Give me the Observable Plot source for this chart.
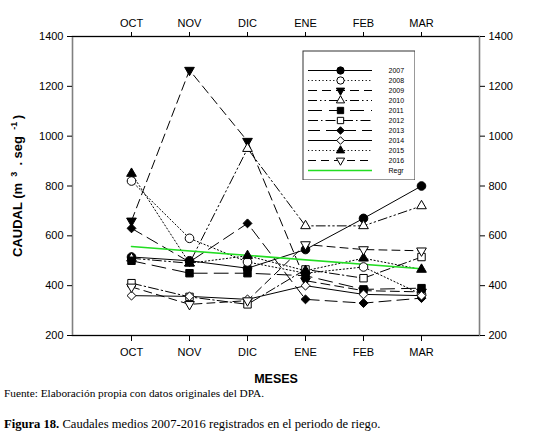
<!DOCTYPE html>
<html><head><meta charset="utf-8">
<script src="https://cdn.jsdelivr.net/npm/d3@7"></script>
<script src="https://cdn.jsdelivr.net/npm/@observablehq/plot@0.6"></script>
<style>
body{margin:0;background:#fff;width:534px;height:436px;overflow:hidden;position:relative;font-family:"Liberation Sans",Arial,sans-serif}
#chart{position:absolute;left:0;top:0}
#legend{position:absolute;left:302px;top:50px}
.cap{position:absolute;left:4px;font-family:"Liberation Serif","Times New Roman",serif;color:#000;white-space:nowrap;line-height:1}
</style></head><body>
<div id="chart"></div><div id="legend"></div>
<div class="cap" style="top:388px;font-size:11.3px">Fuente: Elaboración propia con datos originales del DPA.</div>
<div class="cap" style="top:418px;font-size:12.6px"><b>Figura 18.</b> Caudales medios 2007-2016 registrados en el periodo de riego.</div>
<script>
const months = ["OCT","NOV","DIC","ENE","FEB","MAR"];
const seriesNames = ["2007","2008","2009","2010","2011","2012","2013","2014","2015","2016"];
const v2007 = [515, 500, 470, 545, 670, 800];
const v2008 = [820, 590, 495, 450, 475, 365];
const v2009 = [660, 1265, 980, 420, 380, 375];
const v2010 = [510, 490, 950, 640, 640, 720];
const v2011 = [500, 450, 450, 440, 385, 390];
const v2012 = [410, 355, 325, 465, 430, 515];
const v2013 = [630, 495, 650, 345, 330, 350];
const v2014 = [360, 357, 345, 400, 365, 360];
const v2015 = [850, 490, 520, 460, 510, 465];
const v2016 = [395, 325, 340, 565, 545, 540];
const regrMonths = ["OCT","MAR"];
const regrValues = [557, 468];
const yTicks = [200, 400, 600, 800, 1000, 1200, 1400];
const yLabelParts = ["CAUDAL (m", "3", ". seg", "-1", ")"];

const values = {"2007":v2007,"2008":v2008,"2009":v2009,"2010":v2010,"2011":v2011,
  "2012":v2012,"2013":v2013,"2014":v2014,"2015":v2015,"2016":v2016};

const s3 = Math.sqrt(3);
const triangleDown = {draw(context, size){
  const y = -Math.sqrt(size / (s3 * 3));
  context.moveTo(0, -y * 2);
  context.lineTo(-s3 * y, y);
  context.lineTo(s3 * y, y);
  context.closePath();
}};

const style = {
  "2007": {dash:null, symbol:"circle", fill:"black", r:4.3},
  "2008": {dash:"1.2,2.4", symbol:"circle", fill:"white", r:4.3},
  "2009": {dash:"9,5", symbol:triangleDown, fill:"black", r:3.6},
  "2010": {dash:"9,3,1.5,3,1.5,3", symbol:"triangle", fill:"white", r:3.6},
  "2011": {dash:"14,7", symbol:"square", fill:"black", r:4.2},
  "2012": {dash:"10,3,1.5,3", symbol:"square", fill:"white", r:4.2},
  "2013": {dash:"12,6", symbol:"diamond2", fill:"black", r:4},
  "2014": {dash:null, symbol:"diamond2", fill:"white", r:4},
  "2015": {dash:"1.2,2.4", symbol:"triangle", fill:"black", r:3.6},
  "2016": {dash:"8,5", symbol:triangleDown, fill:"white", r:3.6}
};

const tableFor = n => months.map((m, i) => ({month: m, value: values[n][i]}));
const regrTable = regrMonths.map((m, i) => ({month: m, value: regrValues[i]}));

const lineMarks = seriesNames.map(n => Plot.line(tableFor(n), {
  x: "month", y: "value", stroke: "black", strokeWidth: 1,
  strokeDasharray: style[n].dash || undefined
}));
const dotMarks = seriesNames.map(n => Plot.dot(tableFor(n), {
  x: "month", y: "value", symbol: style[n].symbol, r: style[n].r,
  fill: style[n].fill, stroke: "black", strokeWidth: 1
}));

const chart = Plot.plot({
  width: 534, height: 385,
  marginLeft: 72, marginRight: 55, marginTop: 36, marginBottom: 50,
  style: {fontFamily: "Liberation Sans, Arial, sans-serif", fontSize: "11px", background: "white"},
  x: {type: "point", domain: months, padding: 1},
  y: {domain: [200, 1400]},
  marks: [
    Plot.frame({stroke: "#808080", strokeWidth: 1.6}),
    Plot.ruleY([200, 1400], {stroke: "black", strokeWidth: 1}),
    Plot.axisY({anchor: "left", ticks: yTicks, tickSize: 5, tickPadding: 4, tickFormat: d => String(d), label: null, fontSize: 11}),
    Plot.axisY({anchor: "right", ticks: yTicks, tickSize: 5, tickPadding: 4, tickFormat: d => String(d), label: null, fontSize: 11}),
    Plot.axisX({anchor: "top", tickSize: 5, tickPadding: 5, label: null, fontSize: 11}),
    Plot.axisX({anchor: "bottom", tickSize: 6, tickPadding: 7, label: null, fontSize: 11}),
    Plot.text([yLabelParts.join(" ")], {frameAnchor: "left", dx: -55, rotate: -90, textAnchor: "middle", fontWeight: "bold", fontSize: 13}),
    Plot.text(["MESES"], {frameAnchor: "bottom", dy: 47, fontWeight: "bold", fontSize: 12.5}),
    ...lineMarks,
    Plot.line(regrTable, {x: "month", y: "value", stroke: "#22dd22", strokeWidth: 1.6}),
    ...dotMarks
  ]
});
// superscripts in the y-axis title
for (const t of chart.querySelectorAll("text")) {
  if (t.textContent.startsWith("CAUDAL")) {
    const [a, sup1, b, sup2, c] = yLabelParts;
    t.textContent = "";
    const add = (txt, dy, size) => {
      const ts = document.createElementNS("http://www.w3.org/2000/svg", "tspan");
      ts.textContent = txt;
      if (dy) ts.setAttribute("dy", dy);
      if (size) ts.setAttribute("font-size", size);
      t.appendChild(ts);
    };
    add(a + " ", 0, null);
    add(" " + sup1 + " ", -5, 9);
    add(" " + b + " ", 5, null);
    add(" " + sup2 + " ", -5, 9);
    add(c, 5, null);
  }
}
document.getElementById("chart").appendChild(chart);

// Legend
const legendNames = [...seriesNames, "Regr"];
const legRows = n => [{name: n, a: 6, b: 70, m: 38, t: 86}];
const legMarks = [];
legendNames.forEach(n => {
  if (n === "Regr") {
    legMarks.push(Plot.ruleY(legRows(n), {y: "name", x1: "a", x2: "b", stroke: "#22dd22", strokeWidth: 1.6}));
  } else {
    legMarks.push(Plot.ruleY(legRows(n), {y: "name", x1: "a", x2: "b", stroke: "black", strokeWidth: 1, strokeDasharray: style[n].dash || undefined}));
    legMarks.push(Plot.dot(legRows(n), {y: "name", x: "m", symbol: style[n].symbol, r: style[n].r * 0.85, fill: style[n].fill, stroke: "black", strokeWidth: 1}));
  }
  legMarks.push(Plot.text(legRows(n), {y: "name", x: "t", text: "name", textAnchor: "start", fontSize: 7}));
});
const legend = Plot.plot({
  width: 113, height: 130, margin: 0,
  style: {fontFamily: "Liberation Sans, Arial, sans-serif", background: "white"},
  x: {domain: [0, 113], range: [0, 113], axis: null},
  y: {type: "point", domain: legendNames, range: [16, 124], padding: 0, axis: null},
  marks: [Plot.frame({stroke: "#333", strokeWidth: 1, inset: 0.5}), ...legMarks]
});
document.getElementById("legend").appendChild(legend);
</script>
</body></html>
